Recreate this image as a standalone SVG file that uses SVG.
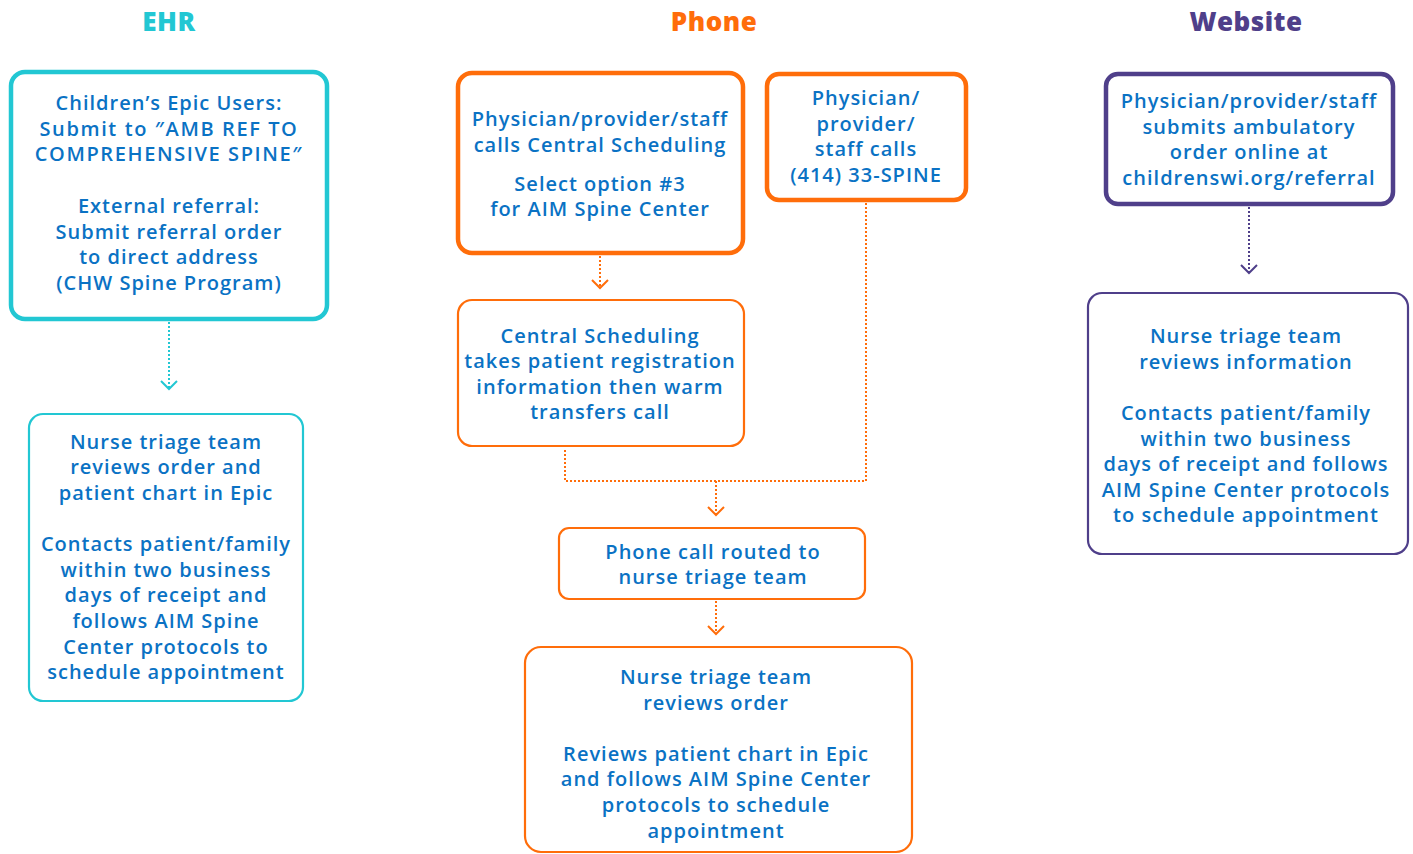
<svg xmlns="http://www.w3.org/2000/svg" width="1413" height="854" viewBox="0 0 1413 854">
<defs>
<style>
text{font-family:"Open Sans","Liberation Sans",sans-serif;font-weight:600;font-size:20px;letter-spacing:1px;fill:#0A72C4;text-anchor:middle}
.h{font-weight:800;font-size:26px;letter-spacing:0.5px}
.caps{letter-spacing:1.6px}
.box{fill:#fff}
.t{stroke:#22C7D3}
.o{stroke:#FF6D0A}
.p{stroke:#4F3F8A}
.thick{stroke-width:4.5}
.thin{stroke-width:2.2}
.c{fill:none;stroke-width:2;stroke-dasharray:2 2}
.ah{fill:none;stroke-width:2}
</style>
</defs>
<rect width="1413" height="854" fill="#fff"/>
<text class="h" x="169" y="31" style="fill:#22C7D3">EHR</text>
<text class="h" x="714" y="31" style="fill:#FF6D0A">Phone</text>
<text class="h" x="1246" y="31" style="fill:#4F3F8A">Website</text>

<g id="connectors">
<path class="c t" d="M169 322V390"/>
<path class="ah t" d="M161 381L169 389L177 381"/>
<path class="c o" d="M600 256V288"/>
<path class="ah o" d="M592 280L600 288L608 280"/>
<path class="c o" d="M866 203V481H565V448"/>
<path class="c o" d="M716 481V515"/>
<path class="ah o" d="M708 507L716 515L724 507"/>
<path class="c o" d="M716 601V634"/>
<path class="ah o" d="M708 626L716 634L724 626"/>
<path class="c p" d="M1249 207V273"/>
<path class="ah p" d="M1241 265L1249 273L1257 265"/>
</g>

<g id="ehr1">
<rect class="box t thick" x="11" y="72" width="316" height="247" rx="14"/>
<text x="169" y="110">Children’s Epic Users:</text>
<text class="caps" x="169" y="136">Submit to ″AMB REF TO</text>
<text class="caps" x="169" y="161">COMPREHENSIVE SPINE″</text>
<text x="169" y="213">External referral:</text>
<text x="169" y="239">Submit referral order</text>
<text x="169" y="264">to direct address</text>
<text x="169" y="290">(CHW Spine Program)</text>
</g>
<g id="ehr2">
<rect class="box t thin" x="29" y="414" width="274" height="287" rx="14"/>
<text x="166" y="449">Nurse triage team</text>
<text x="166" y="474">reviews order and</text>
<text x="166" y="500">patient chart in Epic</text>
<text x="166" y="551">Contacts patient/family</text>
<text x="166" y="577">within two business</text>
<text x="166" y="602">days of receipt and</text>
<text x="166" y="628">follows AIM Spine</text>
<text x="166" y="654">Center protocols to</text>
<text x="166" y="679">schedule appointment</text>
</g>
<g id="phone1">
<rect class="box o thick" x="458" y="73" width="285" height="180" rx="14"/>
<text x="600" y="126">Physician/provider/staff</text>
<text x="600" y="152">calls Central Scheduling</text>
<text x="600" y="191">Select option #3</text>
<text x="600" y="216">for AIM Spine Center</text>
</g>
<g id="phone2">
<rect class="box o thick" x="767" y="74" width="199" height="126" rx="12"/>
<text x="866" y="105">Physician/</text>
<text x="866" y="131">provider/</text>
<text x="866" y="156">staff calls</text>
<text x="866" y="182">(414) 33-SPINE</text>
</g>
<g id="central">
<rect class="box o thin" x="458" y="300" width="286" height="146" rx="14"/>
<text x="600" y="343">Central Scheduling</text>
<text x="600" y="368">takes patient registration</text>
<text x="600" y="394">information then warm</text>
<text x="600" y="419">transfers call</text>
</g>
<g id="routed">
<rect class="box o thin" x="559" y="528" width="306" height="71" rx="10"/>
<text x="713" y="559">Phone call routed to</text>
<text x="713" y="584">nurse triage team</text>
</g>
<g id="phone-nurse">
<rect class="box o thin" x="525" y="647" width="387" height="205" rx="16"/>
<text x="716" y="684">Nurse triage team</text>
<text x="716" y="710">reviews order</text>
<text x="716" y="761">Reviews patient chart in Epic</text>
<text x="716" y="786">and follows AIM Spine Center</text>
<text x="716" y="812">protocols to schedule</text>
<text x="716" y="838">appointment</text>
</g>
<g id="web1">
<rect class="box p thick" x="1106" y="74" width="287" height="130" rx="12"/>
<text x="1249" y="108">Physician/provider/staff</text>
<text x="1249" y="134">submits ambulatory</text>
<text x="1249" y="159">order online at</text>
<text x="1249" y="185">childrenswi.org/referral</text>
</g>
<g id="web2">
<rect class="box p thin" x="1088" y="293" width="320" height="261" rx="14"/>
<text x="1246" y="343">Nurse triage team</text>
<text x="1246" y="369">reviews information</text>
<text x="1246" y="420">Contacts patient/family</text>
<text x="1246" y="446">within two business</text>
<text x="1246" y="471">days of receipt and follows</text>
<text x="1246" y="497">AIM Spine Center protocols</text>
<text x="1246" y="522">to schedule appointment</text>
</g>
</svg>
